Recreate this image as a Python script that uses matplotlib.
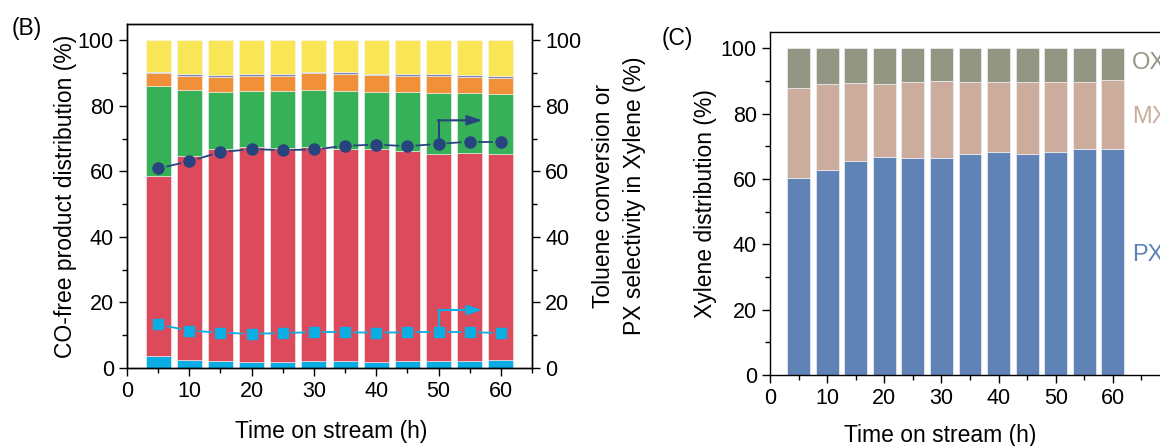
import matplotlib
matplotlib.use("Agg")
import matplotlib.pyplot as plt
import numpy as np
from matplotlib.ticker import MultipleLocator, FixedLocator

plt.rcParams['font.family'] = ['Liberation Sans', 'DejaVu Sans']

# ---------------- data ----------------
time_h = [5, 10, 15, 20, 25, 30, 35, 40, 45, 50, 55, 60]

# Panel B: cumulative tops of the stacked layers (%)
top_cyan = [3.6, 2.4, 2.0, 1.9, 1.7, 2.0, 2.0, 1.9, 2.1, 2.2, 2.2, 2.3]
top_red = [58.6, 64.8, 66.7, 67.5, 67.2, 67.5, 66.8, 66.7, 66.3, 65.4, 65.6, 65.4]
top_green = [86.1, 84.8, 84.1, 84.5, 84.5, 84.8, 84.5, 84.3, 84.1, 83.9, 83.8, 83.6]
top_orange = [90.0, 89.1, 88.8, 89.1, 89.1, 89.9, 89.7, 89.3, 89.2, 89.1, 88.9, 88.6]
top_purple = [90.5, 89.6, 89.3, 89.6, 89.6, 90.4, 90.2, 89.8, 89.7, 89.6, 89.4, 89.1]
top_yellow = [100] * 12

toluene_conv = [13.3, 11.4, 10.8, 10.4, 10.7, 10.9, 10.9, 10.8, 10.9, 10.9, 10.9, 10.7]
px_select = [60.9, 63.1, 65.9, 66.8, 66.5, 66.7, 67.8, 68.2, 67.7, 68.4, 69.1, 69.1]

# Panel C: cumulative tops (%)
top_px = [60.4, 62.9, 65.5, 66.8, 66.5, 66.5, 67.6, 68.2, 67.6, 68.2, 69.2, 69.1]
top_mx = [88.0, 89.0, 89.4, 89.2, 89.7, 89.9, 89.7, 89.7, 89.7, 89.7, 89.7, 90.2]
top_ox = [100] * 12
xylene_names = ['PX', 'MX', 'OX']

x_major_ticks = [0, 10, 20, 30, 40, 50, 60]

# ---------------- style ----------------
c_cyan = '#0AADE3'
c_red = '#DC4A5B'
c_green = '#36B158'
c_orange = '#F0913A'
c_purple = '#7F82B8'
c_yellow = '#F9E657'
c_navy = '#28447F'
c_sq = '#0AAEE3'
c_px = '#5F83B7'
c_mx = '#CCAC9D'
c_ox = '#939683'

TICK_FS = 15.5
LAB_FS = 16.5

fig = plt.figure(figsize=(11.6, 4.46), dpi=100)

def style_axis(ax):
    for s in ax.spines.values():
        s.set_linewidth(1.0)
    ax.tick_params(which='major', direction='out', length=6, width=1.0, labelsize=TICK_FS)
    ax.tick_params(which='minor', direction='out', length=3.5, width=1.0)

# ---------------- Panel B ----------------
axB = fig.add_axes([127/1160, (446-368)/446, 405/1160, 344/446])
bw = 4
layers = [(top_cyan, c_cyan), (top_red, c_red), (top_green, c_green),
          (top_orange, c_orange), (top_purple, c_purple), (top_yellow, c_yellow)]
prev = np.zeros(len(time_h))
for tops, col in layers:
    t = np.array(tops, dtype=float)
    axB.bar(time_h, t - prev, bottom=prev, width=bw, color=col,
            edgecolor='#f4f4f4', linewidth=0.4, zorder=2)
    prev = t

axB.set_xlim(0, 65)
axB.set_ylim(0, 105)
axB.xaxis.set_major_locator(MultipleLocator(10))
axB.xaxis.set_minor_locator(MultipleLocator(5))
axB.yaxis.set_major_locator(MultipleLocator(20))
axB.yaxis.set_minor_locator(MultipleLocator(10))
style_axis(axB)
axB.tick_params(top=False, which='both')
axB.set_xlabel('Time on stream (h)', fontsize=LAB_FS)
axB.xaxis.set_label_coords(0.503, -0.15)
axB.set_ylabel('CO-free product distribution (%)', fontsize=LAB_FS, va='center')
axB.yaxis.set_label_coords(-0.153, 0.5)

axR = axB.twinx()
axR.set_ylim(0, 105)
axR.yaxis.set_major_locator(MultipleLocator(20))
axR.yaxis.set_minor_locator(MultipleLocator(10))
style_axis(axR)
axR.set_ylabel('Toluene conversion or\nPX selectivity in Xylene (%)', fontsize=LAB_FS,
               linespacing=1.4, va='center')
axR.yaxis.set_label_coords(1.215, 0.5)

def gapped_line(ax, xs, ys, color, lw=1.3):
    xs = np.asarray(xs, float); ys = np.asarray(ys, float)
    for i in range(len(xs) - 1):
        t = np.array([0.26, 0.74])
        ax.plot(xs[i] + t * (xs[i+1] - xs[i]), ys[i] + t * (ys[i+1] - ys[i]),
                color=color, lw=lw, solid_capstyle='butt', zorder=3)

gapped_line(axR, time_h, px_select, c_navy)
axR.plot(time_h, px_select, 'o', color=c_navy, ms=8, zorder=4)
gapped_line(axR, time_h, toluene_conv, c_sq)
axR.plot(time_h, toluene_conv, 's', color=c_sq, ms=7.5, zorder=4)

# arrows pointing to the right axis
def right_arrow(ax, x0, y0, y1, x1, color):
    ax.plot([x0, x0], [y0, y1], color=color, lw=1.5, zorder=3)
    ax.annotate('', xy=(x1, y1), xytext=(x0 - 0.1, y1),
                arrowprops=dict(arrowstyle='-|>,head_length=0.9,head_width=0.3',
                                color=color, lw=1.5, shrinkA=0, shrinkB=0), zorder=3)

i50 = time_h.index(50)
right_arrow(axR, 50, px_select[i50], 75.6, 57, c_navy)
right_arrow(axR, 50, toluene_conv[i50], 17.7, 57, c_sq)

fig.text(27/1160, 1 - 28/446, '(B)', fontsize=16.5, ha='center', va='center')

# ---------------- Panel C ----------------
axC = fig.add_axes([770/1160, (446-375)/446, 400/1160, 343/446])
prev = np.zeros(len(time_h))
for tops, col in [(top_px, c_px), (top_mx, c_mx), (top_ox, c_ox)]:
    t = np.array(tops, dtype=float)
    axC.bar(time_h, t - prev, bottom=prev, width=bw, color=col,
            edgecolor='#eef0f4', linewidth=0.5, zorder=2)
    prev = t
axC.set_xlim(0, 70)
axC.set_ylim(0, 105)
axC.xaxis.set_major_locator(FixedLocator(x_major_ticks))
axC.xaxis.set_minor_locator(MultipleLocator(5))
axC.yaxis.set_major_locator(MultipleLocator(20))
axC.yaxis.set_minor_locator(MultipleLocator(10))
style_axis(axC)
axC.tick_params(top=False, right=False, which='both')
axC.set_xlabel('Time on stream (h)', fontsize=LAB_FS)
axC.xaxis.set_label_coords(0.425, -0.143)
axC.set_ylabel('Xylene distribution (%)', fontsize=LAB_FS, va='center')
axC.yaxis.set_label_coords(-0.1625, 0.5)

label_y = [36.7, 79.0, 95.4]
for name, yv, col in zip(xylene_names, label_y, [c_px, c_mx, c_ox]):
    axC.text(63.3, yv, name, color=col, fontsize=17, ha='left', va='center')

fig.text(677/1160, 1 - 39/446, '(C)', fontsize=16.5, ha='center', va='center')

fig.savefig('out.png', dpi=100)
